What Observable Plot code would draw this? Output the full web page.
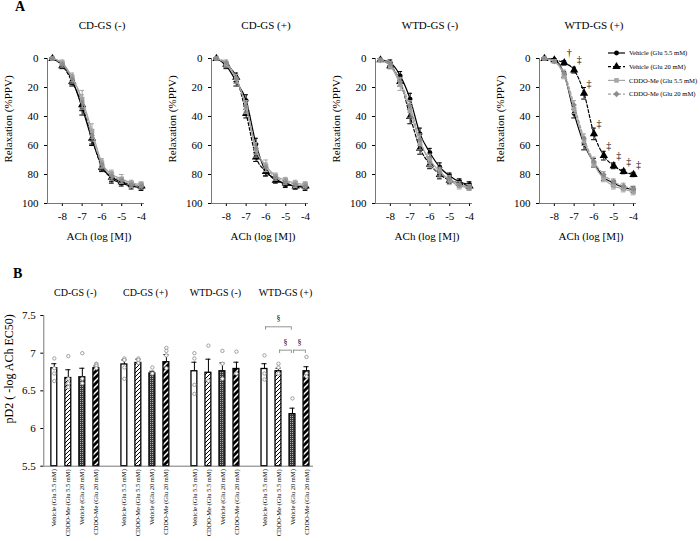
<!DOCTYPE html>
<html><head><meta charset="utf-8">
<script src="https://cdn.jsdelivr.net/npm/d3@7"></script>
<script src="https://cdn.jsdelivr.net/npm/@observablehq/plot@0.6"></script>
<style>
body{margin:0;background:#fff;}
#root{position:relative;width:700px;height:541px;font-family:"Liberation Serif","Times New Roman",serif;overflow:hidden;}
.abs{position:absolute;}
.big{font-weight:bold;font-size:14px;}
</style></head><body>
<svg width="0" height="0" style="position:absolute"><defs>
 <pattern id="hatch" width="4" height="4" patternUnits="userSpaceOnUse"><rect width="4" height="4" fill="#fff"/><path d="M-1,1 l2,-2 M0,4 l4,-4 M3,5 l2,-2" stroke="#000" stroke-width="1"/></pattern>
 <pattern id="dots" width="2" height="2" patternUnits="userSpaceOnUse"><rect width="2" height="2" fill="#3a3a3a"/><rect width="1" height="1" fill="#b0b0b0"/></pattern>
 <pattern id="stripe" width="6" height="6" patternUnits="userSpaceOnUse"><rect width="6" height="6" fill="#000"/><path d="M-1.5,1.5 l3,-3 M0,6 l6,-6 M4.5,7.5 l3,-3" stroke="#fff" stroke-width="1.5"/></pattern>
</defs></svg>
<div id="root">
  <div class="abs big" style="left:15px;top:-1px;">A</div>
  <div class="abs big" style="left:13px;top:266px;">B</div>
</div>
<script>
// ---------- DATA ----------
const doses = [-8.5, -8, -7.5, -7, -6.5, -6, -5.5, -5, -4.5, -4];
const panelTitles = ["CD-GS (-)", "CD-GS (+)", "WTD-GS (-)", "WTD-GS (+)"];
const seriesNames = ["Vehicle (Glu 5.5 mM)", "Vehicle (Glu 20 mM)", "CDDO-Me (Glu 5.5 mM)", "CDDO-Me (Glu 20 mM)"];

// relaxation (%PPV) per series: [veh 5.5, veh 20, CDDO 5.5, CDDO 20]
const relaxCDminus = [
  [0, 4, 15, 34, 56, 74, 83, 86, 88, 89],
  [0, 5, 16, 32, 55, 75, 82, 85, 87, 88],
  [0, 3, 13, 28, 50, 72, 80, 83, 86, 87],
  [0, 4, 14, 30, 53, 73, 81, 84, 87, 88]];
const semCDminus = [
  [0.5, 2, 3, 5, 4, 3, 3, 2, 2, 2],
  [0.5, 2, 3, 4, 4, 3, 3, 2, 2, 2],
  [0.5, 2, 3, 6, 5, 3, 3, 3, 2, 2],
  [0.5, 2, 3, 5, 4, 3, 3, 2, 2, 2]];
const relaxCDplus = [
  [0, 5, 16, 29, 59, 78, 83, 87, 88, 89],
  [0, 4, 13, 38, 68, 78, 84, 86, 88, 88],
  [0, 4, 14, 34, 63, 74, 81, 84, 86, 87],
  [0, 3, 14, 33, 62, 75, 82, 85, 87, 88]];
const semCDplus = [
  [0.5, 2, 3, 4, 4, 3, 2, 2, 2, 2],
  [0.5, 2, 3, 3, 3, 3, 2, 2, 2, 2],
  [0.5, 2, 3, 4, 5, 4, 2, 2, 2, 2],
  [0.5, 2, 3, 4, 4, 3, 2, 2, 2, 2]];
const relaxWTDminus = [
  [1, 3, 12, 28, 52, 65, 75, 81, 85, 87],
  [1, 5, 16, 40, 62, 73, 80, 84, 86, 88],
  [1, 5, 18, 36, 58, 70, 78, 84, 88, 89],
  [1, 4, 16, 33, 56, 72, 79, 83, 87, 89]];
const semWTDminus = [
  [1, 2, 3, 4, 4, 3, 3, 2, 2, 2],
  [1, 2, 3, 5, 4, 3, 3, 2, 2, 2],
  [1, 2, 4, 5, 5, 4, 3, 3, 2, 2],
  [1, 2, 3, 4, 4, 3, 3, 2, 2, 2]];
const relaxWTDplus = [
  [0, 1, 11, 38, 59, 72, 82, 86, 89, 90.5],
  [0, 1, 3, 8, 24, 52, 67, 74, 78, 80],
  [0, 2, 12, 35, 57, 73, 83, 88, 90, 92],
  [0, 2, 10, 32, 55, 71, 80, 85, 88, 90]];
const semWTDplus = [
  [0.5, 1, 2, 3, 4, 3, 2, 2, 1.5, 2],
  [0.5, 1, 1.5, 2, 4, 4, 3, 2, 1.5, 1.5],
  [0.5, 1, 2, 3, 3, 2, 2, 2, 2, 2],
  [0.5, 1, 2, 3, 3, 3, 2, 2, 2, 2]];
// significance marks (Vehicle Glu 20 mM in WTD-GS (+))
const sigDoses = [-7.5, -7, -6.5, -6, -5.5, -5, -4.5, -4];
const sigMarks = ["†", "‡", "‡", "‡", "‡", "‡", "‡", "‡"];

// panel B: pD2 (bar order below)
const groups = ["CD-GS (-)", "CD-GS (+)", "WTD-GS (-)", "WTD-GS (+)"];
const barNames = ["Vehicle (Glu 5.5 mM)", "CDDO-Me (Glu 5.5 mM)", "Vehicle (Glu 20 mM)", "CDDO-Me (Glu 20 mM)"];
const pd2Mean = [
  [6.80, 6.67, 6.68, 6.80],
  [6.85, 6.87, 6.73, 6.88],
  [6.76, 6.74, 6.76, 6.79],
  [6.79, 6.76, 6.19, 6.76]];
const pd2Sem = [
  [0.06, 0.11, 0.12, 0.03],
  [0.06, 0.05, 0.03, 0.10],
  [0.12, 0.18, 0.11, 0.09],
  [0.07, 0.04, 0.08, 0.06]];
const pd2Points = [
  [[6.93, 6.80, 6.73, 6.63], [6.96, 6.66, 6.60, 6.55], [7.00, 6.66, 6.60], [6.86, 6.85, 6.83, 6.80]],
  [[6.93, 6.91, 6.81, 6.66], [6.93, 6.91, 6.87], [6.81, 6.73], [7.07, 7.03, 6.97, 6.80]],
  [[7.00, 6.93, 6.58, 6.46], [7.10, 6.63], [7.03, 6.86, 6.66], [7.02, 6.73]],
  [[6.97, 6.73, 6.65], [6.86, 6.81, 6.73], [6.40], [6.95, 6.73, 6.69]]];
const sigGroup = 3;
const sigPairs = [[0, 2], [1, 2], [2, 3]];
const sigLevels = [7.35, 7.04, 7.04];

// ---------- STYLE ----------
const font = "Liberation Serif, Times New Roman, serif";
const lineCol = ["#000", "#000", "#a6a6a6", "#a0a0a0"];
const dotCol = ["#000", "#000", "#a6a6a6", "#8c8c8c"];
const dashes = [null, "3,2", null, "3,2"];
const syms = ["circle", "triangle", "square", "diamond2"];
const symR = [2.4, 3.1, 2.6, 2.5];
const barFill = ["#fff", "url(#hatch)", "url(#dots)", "url(#stripe)"];
const mid = {textAnchor: "middle", lineAnchor: "middle", fill: "#000"};

const root = document.getElementById("root");
function place(node, left, top) {
  const d = document.createElement("div");
  d.className = "abs"; d.style.left = left + "px"; d.style.top = top + "px";
  d.appendChild(node); root.appendChild(d);
}

function topPanel(title, means, sems, withSig) {
  const marks = [];
  means.forEach((arr, s) => {
    const d = arr.map((v, i) => ({x: doses[i], y: v, e: sems[s][i]}));
    marks.push(Plot.ruleX(d, {x: "x", y1: r => r.y - r.e, y2: r => r.y + r.e, stroke: lineCol[s], strokeWidth: 1}));
    marks.push(Plot.ruleY(d, {y: r => r.y + r.e, x1: r => r.x - 0.12, x2: r => r.x + 0.12, stroke: lineCol[s], strokeWidth: 1}));
    marks.push(Plot.ruleY(d, {y: r => r.y - r.e, x1: r => r.x - 0.12, x2: r => r.x + 0.12, stroke: lineCol[s], strokeWidth: 1}));
    marks.push(Plot.line(d, {x: "x", y: "y", stroke: lineCol[s], strokeWidth: 1.2, strokeDasharray: dashes[s], curve: "monotone-x"}));
    marks.push(Plot.dot(d, {x: "x", y: "y", symbol: syms[s], r: symR[s], fill: dotCol[s], stroke: "none"}));
  });
  if (withSig) {
    const tri = means[1];
    const sd = sigDoses.map((x, i) => ({x, y: tri[doses.indexOf(x)], m: sigMarks[i]}));
    marks.push(Plot.text(sd, {x: "x", y: "y", text: "m", dx: 5, dy: -10, fontSize: 10, ...mid}));
  }
  marks.push(Plot.ruleX([-8.75], {stroke: "#555", strokeWidth: 0.8}));
  marks.push(Plot.ruleY([100], {stroke: "#555", strokeWidth: 0.8}));
  marks.push(Plot.text([title], {text: d => d, frameAnchor: "top", dy: -33, dx: 6, fontSize: 11, ...mid}));
  marks.push(Plot.text(["ACh (log [M])"], {text: d => d, frameAnchor: "bottom", dy: 33, dx: 3, fontSize: 11, ...mid}));
  marks.push(Plot.text(["Relaxation (%PPV)"], {text: d => d, frameAnchor: "left", rotate: -90, dx: -39, dy: -12, fontSize: 11, ...mid}));
  return Plot.plot({
    width: 164, height: 250, marginLeft: 47, marginRight: 20, marginTop: 58, marginBottom: 47,
    style: {fontFamily: font, fontSize: "11px", fontWeight: "normal", background: "transparent", overflow: "visible", color: "#000"},
    x: {domain: [-8.75, -3.85], ticks: [-8, -7, -6, -5, -4], tickFormat: d => String(d), tickSize: 3, tickPadding: 6, label: null},
    y: {domain: [0, 100], reverse: true, ticks: [0, 20, 40, 60, 80, 100], tickFormat: d => String(d), tickSize: 3, tickPadding: 6, label: null},
    marks
  });
}

const tops = [
  [relaxCDminus, semCDminus], [relaxCDplus, semCDplus],
  [relaxWTDminus, semWTDminus], [relaxWTDplus, semWTDplus]];
tops.forEach(([m, s], i) => place(topPanel(panelTitles[i], m, s, i === 3), 164 * i, 0));

// legend for panel A
(function legend() {
  const svg = d3.create("svg").attr("width", 100).attr("height", 60)
    .style("font-family", font).style("font-size", "6.6px").style("overflow", "visible");
  seriesNames.forEach((name, i) => {
    const g = svg.append("g").attr("transform", `translate(0,${8 + i * 13.7})`);
    g.append("line").attr("x1", 2).attr("x2", 19).attr("y1", 0).attr("y2", 0)
      .attr("stroke", lineCol[i]).attr("stroke-width", 1.2).attr("stroke-dasharray", dashes[i]);
    const types = [d3.symbolCircle, d3.symbolTriangle, d3.symbolSquare, d3.symbolSquare];
    g.append("path").attr("d", d3.symbol(types[i], Math.PI * symR[i] * symR[i])())
      .attr("transform", `translate(10.5,0)${i === 3 ? " rotate(45)" : ""}`).attr("fill", dotCol[i]);
    g.append("text").attr("x", 23).attr("y", 0).attr("dy", "0.32em").text(name);
  });
  place(svg.node(), 606, 45);
})();

// ---------- PANEL B ----------
const rows = [];
groups.forEach((g, gi) => barNames.forEach((t, ti) =>
  rows.push({gi, ti, pos: gi * 5 + ti, mean: pd2Mean[gi][ti], sem: pd2Sem[gi][ti], name: t})));
const pts = [];
pd2Points.forEach((grp, gi) => grp.forEach((arr, ti) => arr.forEach(v => pts.push({pos: gi * 5 + ti, v}))));
const br = sigPairs.map(([a, b], i) => ({x1: sigGroup * 5 + a, x2: sigGroup * 5 + b, y: sigLevels[i]}));

const bMarks = [];
barFill.forEach((f, ti) => {
  bMarks.push(Plot.rectY(rows.filter(r => r.ti === ti), {x1: r => r.pos - 0.21, x2: r => r.pos + 0.21, y1: 5.5, y2: "mean", fill: f, stroke: "#000", strokeWidth: 1.3}));
});
bMarks.push(Plot.ruleX(rows, {x: "pos", y1: "mean", y2: r => r.mean + r.sem, stroke: "#000", strokeWidth: 1}));
bMarks.push(Plot.ruleY(rows, {y: r => r.mean + r.sem, x1: r => r.pos - 0.18, x2: r => r.pos + 0.18, stroke: "#000", strokeWidth: 1}));
bMarks.push(Plot.dot(pts, {x: "pos", y: "v", r: 1.7, fill: "#fff", stroke: "#8a8a8a", strokeWidth: 0.8}));
bMarks.push(Plot.ruleY(br, {y: "y", x1: d => d.x1 + 0.08, x2: d => d.x2 - 0.08, stroke: "#888", strokeWidth: 0.9}));
bMarks.push(Plot.ruleX(br, {x: d => d.x1 + 0.08, y1: d => d.y - 0.045, y2: "y", stroke: "#888", strokeWidth: 0.9}));
bMarks.push(Plot.ruleX(br, {x: d => d.x2 - 0.08, y1: d => d.y - 0.045, y2: "y", stroke: "#888", strokeWidth: 0.9}));
bMarks.push(Plot.text(br, {x: d => (d.x1 + d.x2) / 2, y: "y", text: () => "§", dy: -8, fontSize: 8, ...mid}));
bMarks.push(Plot.ruleY([5.5], {stroke: "#555", strokeWidth: 0.8}));
bMarks.push(Plot.ruleX([-0.75], {stroke: "#555", strokeWidth: 0.8}));
bMarks.push(Plot.text(rows, {x: "pos", text: "name", frameAnchor: "bottom", rotate: -90, dy: 3, fontSize: 6.5, ...mid, textAnchor: "end"}));
bMarks.push(Plot.text(groups.map((g, gi) => ({g, pos: gi * 5 + 1.5})), {x: "pos", text: "g", frameAnchor: "top", dy: -23, fontSize: 10, ...mid}));
bMarks.push(Plot.text(["pD2 ( -log ACh EC50)"], {text: d => d, frameAnchor: "left", rotate: -90, dx: -35, dy: -22, fontSize: 12, ...mid}));

const chartB = Plot.plot({
  width: 333, height: 281, marginLeft: 43.3, marginRight: 20, marginTop: 55, marginBottom: 75.3,
  style: {fontFamily: font, fontSize: "11px", fontWeight: "normal", background: "transparent", overflow: "visible", color: "#000"},
  x: {domain: [-0.75, 18.5], axis: null},
  y: {domain: [5.5, 7.5], ticks: [5.5, 6, 6.5, 7, 7.5], tickFormat: d => String(d), tickSize: 3, tickPadding: 5, label: null},
  marks: bMarks
});
place(chartB, 0, 260);
</script>
</body></html>
